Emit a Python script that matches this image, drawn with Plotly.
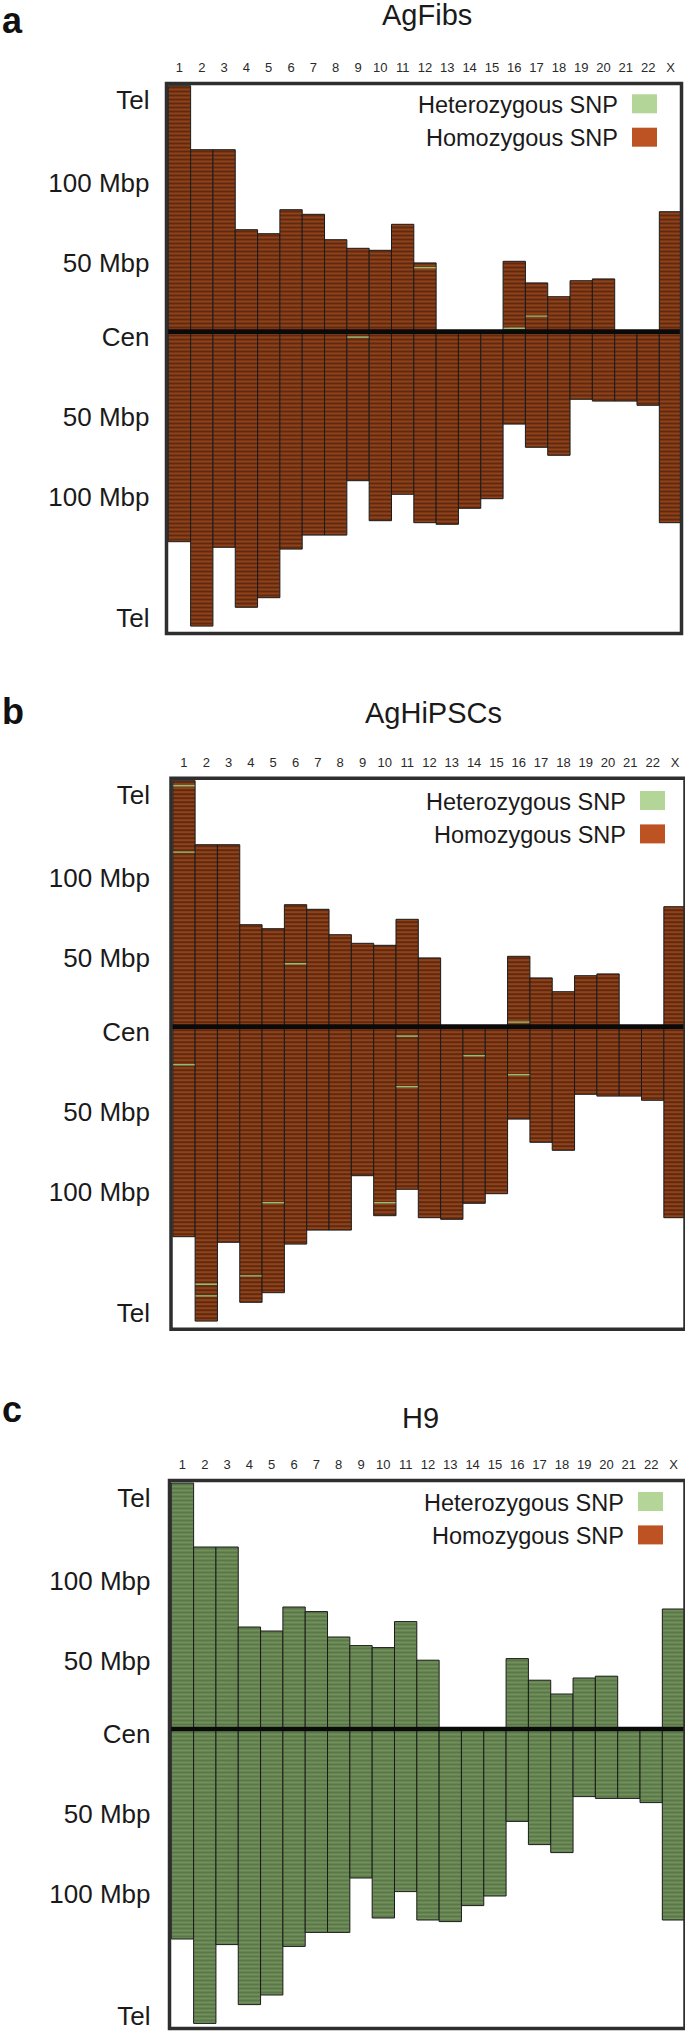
import plotly.graph_objects as go

FIG_W, FIG_H = 685, 2032

# ---------------- data ----------------
chromosomes = [str(i) for i in range(1, 23)] + ["X"]
# arm lengths (Mbp): p-arm above the centromere, q-arm below
p_arm_mbp = [123.0, 91.0, 91.0, 51.0, 49.0, 61.0, 58.7, 46.0, 41.7, 40.7, 53.7, 34.4,
             None, None, None, 35.2, 24.4, 17.5, 25.5, 26.4, None, None, 60.0]
q_arm_mbp = [105.0, 147.2, 107.8, 137.8, 133.0, 108.7, 101.7, 101.7, 74.5, 94.5, 81.3, 95.5,
             96.3, 88.3, 83.5, 46.2, 57.8, 61.8, 33.8, 34.7, 34.7, 36.8, 95.5]

panel_titles = ["AgFibs", "AgHiPSCs", "H9"]
panel_letters = ["a", "b", "c"]
panel_genotype = ["hom", "hom", "het"]

# isolated heterozygous SNP bins (signed Mbp from centromere: + p-arm, - q-arm)
het_snp_chrom_a = ["12", "17", "16", "9"]
het_snp_pos_a = [32.0, 7.8, 1.7, -2.7]
het_snp_chrom_b = ["1", "1", "6", "1", "11", "11", "14", "16", "16", "5", "10", "2", "2", "4"]
het_snp_pos_b = [120.5, 87.3, 31.5, -19.0, -4.7, -30.0, -14.5, -24.0, 2.3, -88.0, -88.0,
                 -128.8, -134.6, -124.6]
het_snp_chrom_c = []
het_snp_pos_c = []
het_snp_chroms = [het_snp_chrom_a, het_snp_chrom_b, het_snp_chrom_c]
het_snp_positions = [het_snp_pos_a, het_snp_pos_b, het_snp_pos_c]

y_tick_mbp = [115.8, 74.2, 34.2, -2.5, -42.5, -82.5, -143.2]
y_tick_text = ["Tel", "100 Mbp", "50 Mbp", "Cen", "50 Mbp", "100 Mbp", "Tel"]
legend_labels = ["Heterozygous SNP", "Homozygous SNP"]
legend_keys = ["het", "hom"]

# ---------------- style / layout ----------------
FONT = "Liberation Sans, Arial, Helvetica, sans-serif"
PX_PER_MBP = 2.0
PX_PER_CHR = 22.32
X_LEFT = -0.58

PANELS = [
    dict(left=166.5, right=681.5, top=83.5, bottom=633.5, cen=331.7,
         title=(427, 14.5), letter=(0, 21.0), leg=(632, 94.3), ystand=16),
    dict(left=171.0, right=685.0, top=778.2, bottom=1329.2, cen=1026.7,
         title=(433, 713), letter=(0, 711.4), leg=(640, 791), ystand=20),
    dict(left=169.5, right=685.0, top=1480.5, bottom=2028.5, cen=1729.0,
         title=(420, 1418), letter=(0, 1409.7), leg=(638, 1492), ystand=18),
]

FILL = {"hom": ("#5e2a12", "#e2651f"), "het": ("#5a7847", "#a8c78d")}
SOLIDITY = {"hom": 0.4, "het": 0.3}
HET_LINE = "#8cc078"
SWATCH = {"het": "#b3d597", "hom": "#bd5323"}


def px(x):
    return x / FIG_W


def py(y):
    return 1 - y / FIG_H


fig = go.Figure()
layout = dict(
    width=FIG_W, height=FIG_H,
    margin=dict(l=0, r=0, t=0, b=0, pad=0),
    paper_bgcolor="white", plot_bgcolor="white",
    barmode="overlay", showlegend=False,
    font=dict(family=FONT, color="#1a1a1a"),
)
shapes, annotations = [], []

for i, pan in enumerate(PANELS):
    k = "" if i == 0 else str(i + 1)
    xa, ya = "x" + k, "y" + k
    g = panel_genotype[i]
    bg, fg = FILL[g]
    marker = dict(color=bg, line=dict(color="#1b1b1b", width=1),
                  pattern=dict(shape="-", fgcolor=fg, size=4, solidity=SOLIDITY[g]))
    # p-arm
    fig.add_trace(go.Bar(x=chromosomes, y=p_arm_mbp, base=0, width=1, marker=marker,
                         xaxis=xa, yaxis=ya, hoverinfo="skip"))
    # q-arm
    fig.add_trace(go.Bar(x=chromosomes, y=q_arm_mbp, base=[-q for q in q_arm_mbp], width=1,
                         marker=marker, xaxis=xa, yaxis=ya, hoverinfo="skip"))
    # isolated heterozygous bins
    if het_snp_chroms[i]:
        fig.add_trace(go.Bar(x=het_snp_chroms[i], y=[0.7] * len(het_snp_chroms[i]),
                             base=[p - 0.35 for p in het_snp_positions[i]], width=0.96,
                             marker=dict(color=HET_LINE, line=dict(width=0)),
                             xaxis=xa, yaxis=ya, hoverinfo="skip"))

    x_range = [X_LEFT, X_LEFT + (pan["right"] - pan["left"]) / PX_PER_CHR]
    y_range = [-(pan["bottom"] - pan["cen"]) / PX_PER_MBP, (pan["cen"] - pan["top"]) / PX_PER_MBP]
    layout["xaxis" + k] = dict(
        domain=[px(pan["left"]), px(pan["right"])], anchor=ya, side="top",
        type="category", categoryorder="array", categoryarray=chromosomes,
        range=x_range, showgrid=False, zeroline=False, showline=False, ticks="",
        tickfont=dict(size=13, color="#2a2a2a"), ticklabelstandoff=8, fixedrange=True,
        automargin=False,
    )
    layout["yaxis" + k] = dict(
        domain=[py(pan["bottom"]), py(pan["top"])], anchor=xa,
        range=y_range, showgrid=False, zeroline=False, showline=False, ticks="",
        tickmode="array", tickvals=y_tick_mbp, ticktext=y_tick_text,
        tickfont=dict(size=26, color="#1a1a1a"), ticklabelstandoff=pan["ystand"], fixedrange=True,
        automargin=False,
    )
    # centromere line
    shapes.append(dict(type="line", xref=xa + " domain", yref=ya, x0=0, x1=1, y0=0, y1=0,
                       line=dict(color="#0a0a0a", width=4.7), layer="above"))
    # frame
    shapes.append(dict(type="rect", xref=xa + " domain", yref=ya + " domain", x0=0, x1=1, y0=0, y1=1,
                       line=dict(color="#2e2e2e", width=3.5), layer="above"))
    # legend
    lx, ly = pan["leg"]
    for j, (lab, key) in enumerate(zip(legend_labels, legend_keys)):
        top = ly + j * 33.4
        shapes.append(dict(type="rect", xref="paper", yref="paper",
                           x0=px(lx), x1=px(lx + 25), y0=py(top + 19), y1=py(top),
                           fillcolor=SWATCH[key], line=dict(width=0), layer="above"))
        annotations.append(dict(text=lab, xref="paper", yref="paper", x=px(lx - 12), y=py(top + 10.5),
                                xanchor="right", yanchor="middle", showarrow=False,
                                font=dict(size=23.5, color="#1a1a1a", family=FONT)))
    # title & panel letter
    tx, ty = pan["title"]
    annotations.append(dict(text=panel_titles[i], xref="paper", yref="paper", x=px(tx), y=py(ty),
                            xanchor="center", yanchor="middle", showarrow=False,
                            font=dict(size=29, color="#1a1a1a", family=FONT)))
    lx0, ly0 = pan["letter"]
    annotations.append(dict(text="<b>" + panel_letters[i] + "</b>", xref="paper", yref="paper",
                            x=px(lx0), y=py(ly0), xanchor="left", yanchor="middle", showarrow=False,
                            font=dict(size=36, color="#111111", family=FONT)))

layout["shapes"] = shapes
layout["annotations"] = annotations
fig.update_layout(**layout)
fig.write_html("out.html",
               config={"displayModeBar": False, "staticPlot": True},
               post_script="document.body.style.margin='0';document.body.style.padding='0';")
